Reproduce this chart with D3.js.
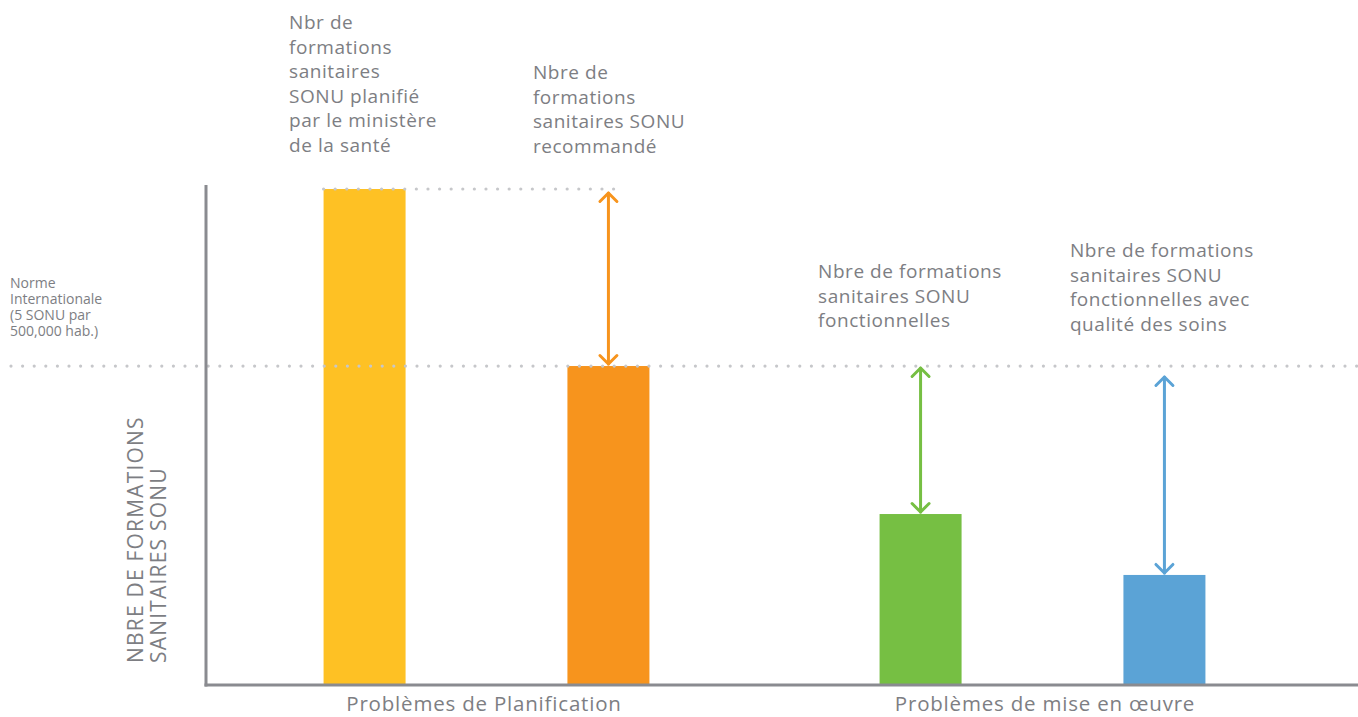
<!DOCTYPE html>
<html lang="fr">
<head>
<meta charset="utf-8">
<script src="https://cdn.jsdelivr.net/npm/d3@7"></script>
<style>
  html, body { margin: 0; padding: 0; background: #fff; }
  svg { display: block; font-family: "Open Sans", Lato, sans-serif; }
</style>
</head>
<body>
<svg id="chart" width="1358" height="717"></svg>
<script>
// Groups shown on the horizontal axis
const groups = ["Problèmes de Planification", "Problèmes de mise en œuvre"];
// Bars: key, group, value (index, recommended number = 100)
const barKeys = ["planifie", "recommande", "fonctionnelles", "qualite"];
const barGroups = [0, 0, 1, 1];
const barValues = [155.5, 100, 53.6, 34.5];
const barColors = ["#FEC124", "#F7941D", "#76BF43", "#5BA3D6"];
// Labels above each bar, one entry per line
const barLabels = [
  ["Nbr de", "formations", "sanitaires", "SONU planifié", "par le ministère", "de la santé"],
  ["Nbre de", "formations", "sanitaires SONU", "recommandé"],
  ["Nbre de formations", "sanitaires SONU", "fonctionnelles"],
  ["Nbre de formations", "sanitaires SONU", "fonctionnelles avec", "qualité des soins"]
];
// International norm (same level as the recommended number)
const normValue = 100;
const normLabel = ["Norme", "Internationale", "(5 SONU par", "500,000 hab.)"];
const yTitle = ["NBRE DE FORMATIONS", "SANITAIRES SONU"];

const svg = d3.select("#chart");
const textColor = "#7d7e83";
const axisColor = "#8a8b90";
const dotColor = "#c6c7ca";

const x0 = 206, baseY = 685;
const y = d3.scaleLinear().domain([0, 155.5]).range([baseY, 189]);
const xGroup = d3.scaleBand().domain(groups).range([208.5, 1320.5]);
const xInner = d3.scalePoint().domain([0, 1]).range([0, xGroup.bandwidth()]).padding(0.64);
const barW = 82;

const bars = barKeys.map((k, i) => ({
  key: k, value: barValues[i], color: barColors[i], label: barLabels[i],
  cx: xGroup(groups[barGroups[i]]) + xInner(i % 2)
}));

// Dotted reference lines
function dotted(xa, xb, yy) {
  const step = 11.6;
  const n = Math.floor((xb - xa) / step);
  svg.append("g").selectAll("circle").data(d3.range(n + 1)).join("circle")
    .attr("cx", d => xa + d * step).attr("cy", yy).attr("r", 1.6).attr("fill", dotColor);
}

// Bars
svg.append("g").selectAll("rect").data(bars).join("rect")
  .attr("x", d => d.cx - barW / 2)
  .attr("y", d => y(d.value))
  .attr("width", barW)
  .attr("height", d => baseY - y(d.value))
  .attr("fill", d => d.color);

dotted(11, 1358, y(normValue));
dotted(bars[0].cx - barW / 2, bars[1].cx + 12, y(bars[0].value));

// Double-headed arrows showing the gaps
function arrow(cx, yTop, yBot, color) {
  const g = svg.append("g").attr("stroke", color).attr("stroke-width", 3)
    .attr("fill", "none").attr("stroke-linecap", "round").attr("stroke-linejoin", "round");
  g.append("line").attr("x1", cx).attr("x2", cx).attr("y1", yTop).attr("y2", yBot);
  const h = 8.5;
  g.append("path").attr("d", `M${cx - h},${yTop + h} L${cx},${yTop} L${cx + h},${yTop + h}`);
  g.append("path").attr("d", `M${cx - h},${yBot - h} L${cx},${yBot} L${cx + h},${yBot - h}`);
}
arrow(bars[1].cx, y(bars[0].value) + 4, y(bars[1].value) - 2, bars[1].color);
arrow(bars[2].cx, y(normValue) + 2, y(bars[2].value) - 2, bars[2].color);
arrow(bars[3].cx, y(normValue) + 11, y(bars[3].value) - 2, bars[3].color);

// Axes
svg.append("line").attr("x1", x0).attr("x2", x0).attr("y1", 185).attr("y2", baseY + 1.5)
  .attr("stroke", axisColor).attr("stroke-width", 3);
svg.append("line").attr("x1", x0 - 1.5).attr("x2", 1358).attr("y1", baseY).attr("y2", baseY)
  .attr("stroke", axisColor).attr("stroke-width", 3);

// Group labels
svg.append("g").selectAll("text").data(groups).join("text")
  .attr("x", d => xGroup(d) + xGroup.bandwidth() / 2 + (d === groups[0] ? -2.5 : 2.5))
  .attr("y", 711)
  .attr("text-anchor", "middle")
  .attr("font-size", 20.5).attr("fill", textColor).attr("letter-spacing", 0.8)
  .text(d => d);

// Bar annotation labels
const labelPos = [
  { dx: -75.5, top: 29 },
  { dx: -75.5, top: 79 },
  { dx: -102.5, top: 278 },
  { dx: -94.5, top: 257 }
];
bars.forEach((b, i) => {
  const t = svg.append("text")
    .attr("x", b.cx + labelPos[i].dx).attr("y", labelPos[i].top)
    .attr("font-size", 19).attr("fill", textColor).attr("letter-spacing", 0.55);
  b.label.forEach((line, j) => {
    t.append("tspan").attr("x", b.cx + labelPos[i].dx).attr("dy", j === 0 ? 0 : 24.6).text(line);
  });
});

// Norm label
const nt = svg.append("text").attr("x", 10).attr("y", 288).attr("font-size", 14).attr("fill", textColor);
normLabel.forEach((line, j) => nt.append("tspan").attr("x", 10).attr("dy", j === 0 ? 0 : 16).text(line));

// Vertical axis title
const yt = svg.append("text").attr("transform", "translate(143,663) rotate(-90)")
  .attr("font-size", 21).attr("fill", textColor).attr("letter-spacing", 1.2);
yTitle.forEach((line, j) => yt.append("tspan").attr("x", 0).attr("dy", j === 0 ? 0 : 23).text(line));
</script>
</body>
</html>
